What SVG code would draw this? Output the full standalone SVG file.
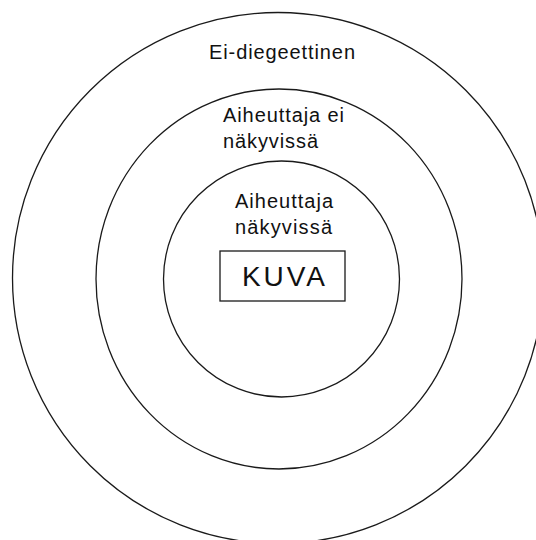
<svg xmlns="http://www.w3.org/2000/svg" width="536" height="540" viewBox="0 0 536 540">
<style>
.ring{fill:none;stroke:#1a1a1a;stroke-width:1.3}
.lbl{font-family:"Liberation Sans",Arial,sans-serif;font-size:20px;fill:#111}
.big{font-family:"Liberation Sans",Arial,sans-serif;font-size:28px;fill:#111}
</style>
<rect width="536" height="540" fill="#fff"/>
<g id="outer">
<circle class="ring" cx="278" cy="278" r="265.5"/>
<text class="lbl" x="209" y="59" textLength="146" lengthAdjust="spacing">Ei-diegeettinen</text>
</g>
<g id="middle">
<ellipse class="ring" cx="279" cy="279" rx="183" ry="190"/>
<text class="lbl" x="223" y="122" textLength="121" lengthAdjust="spacing">Aiheuttaja ei</text>
<text class="lbl" x="223" y="148" textLength="95" lengthAdjust="spacing">näkyvissä</text>
</g>
<g id="inner">
<circle class="ring" cx="281.5" cy="279" r="118"/>
<text class="lbl" x="235" y="208" textLength="98" lengthAdjust="spacing">Aiheuttaja</text>
<text class="lbl" x="235" y="234" textLength="97" lengthAdjust="spacing">näkyvissä</text>
</g>
<g id="kuva">
<rect x="220" y="251" width="125" height="50" fill="#fff" stroke="#1a1a1a" stroke-width="1.3"/>
<text class="big" x="242" y="286" textLength="83" lengthAdjust="spacing">KUVA</text>
</g>
<g id="connectors"></g>
</svg>
